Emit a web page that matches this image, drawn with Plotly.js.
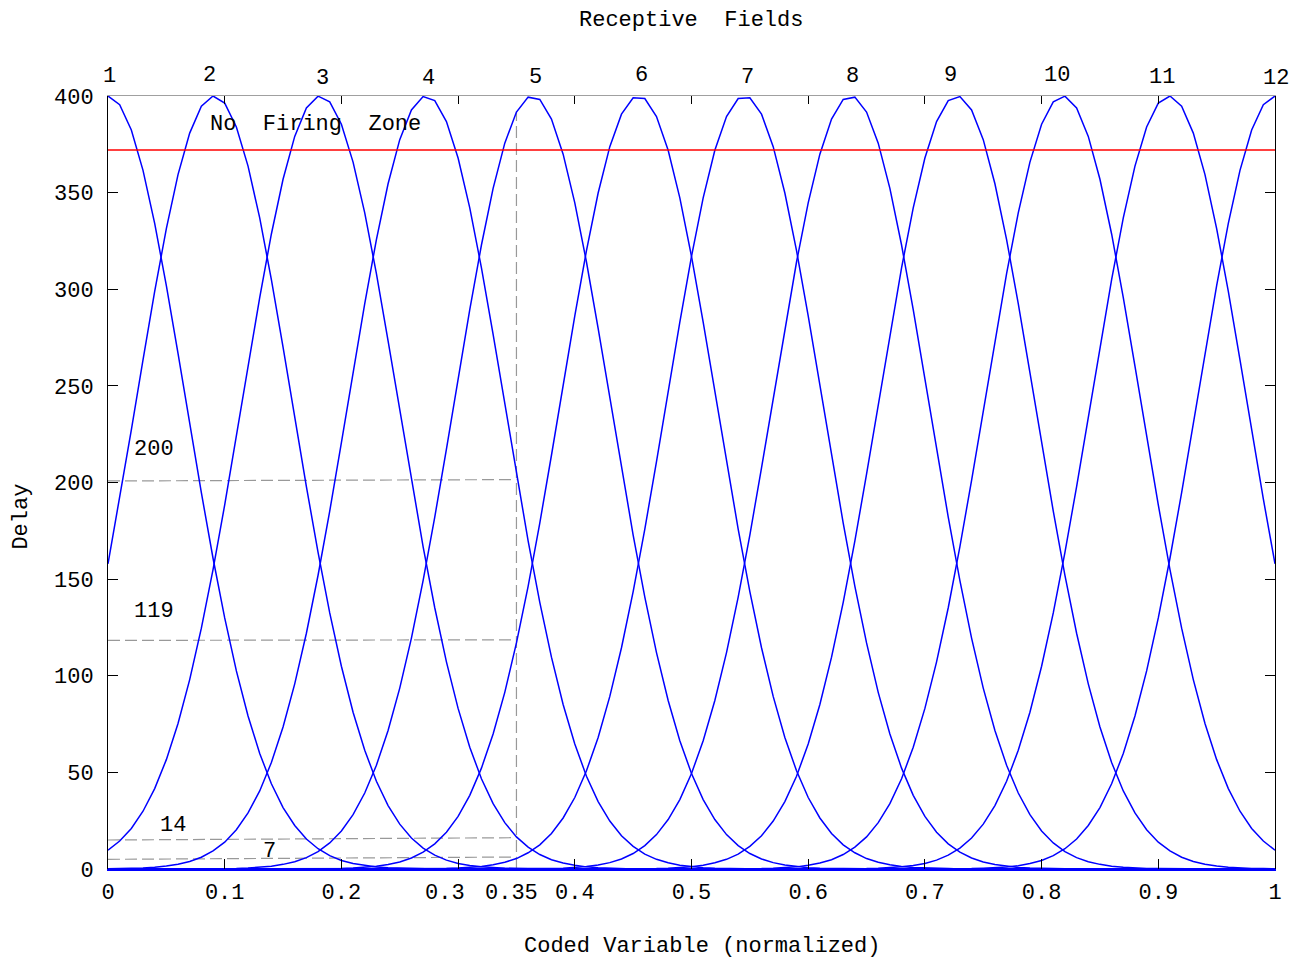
<!DOCTYPE html>
<html>
<head>
<meta charset="utf-8">
<script src="https://cdn.plot.ly/plotly-3.0.1.min.js"></script>
<style>html,body{margin:0;padding:0;background:#fff;}#chart{width:1293px;height:962px;}</style>
</head>
<body>
<div id="chart"></div>
<script>
// Sampling grid of the coded variable
const codedVariable = [
 0,0.01,0.02,0.03,0.04,0.05,0.06,0.07,0.08,0.09,
 0.1,0.11,0.12,0.13,0.14,0.15,0.16,0.17,0.18,0.19,
 0.2,0.21,0.22,0.23,0.24,0.25,0.26,0.27,0.28,0.29,
 0.3,0.31,0.32,0.33,0.34,0.35,0.36,0.37,0.38,0.39,
 0.4,0.41,0.42,0.43,0.44,0.45,0.46,0.47,0.48,0.49,
 0.5,0.51,0.52,0.53,0.54,0.55,0.56,0.57,0.58,0.59,
 0.6,0.61,0.62,0.63,0.64,0.65,0.66,0.67,0.68,0.69,
 0.7,0.71,0.72,0.73,0.74,0.75,0.76,0.77,0.78,0.79,
 0.8,0.81,0.82,0.83,0.84,0.85,0.86,0.87,0.88,0.89,
 0.9,0.91,0.92,0.93,0.94,0.95,0.96,0.97,0.98,0.99,
 1
];

// Delay of each receptive field, read at each grid point
const field1 = [
 400,395.5,382.4,361.5,334.1,301.9,266.8,230.5,194.7,160.8,
 129.9,102.5,79.2,59.8,44.1,31.8,22.5,15.5,10.5,6.9,
 4.4,2.8,1.7,1.0,0.6,0.4,0.2,
 0,0,0,0,0,0,0,0,0,0, 0,0,0,0,0,0,0,0,0,0, 0,0,0,0,0,0,0,0,0,0,
 0,0,0,0,0,0,0,0,0,0, 0,0,0,0,0,0,0,0,0,0, 0,0,0,0,0,0,0,0,0,0,
 0,0,0,0,0,0,0,0,0,0, 0,0,0,0
];
const field2 = [
 157.9,191.5,227.2,263.5,298.9,331.4,359.3,380.8,394.7,400.0,
 396.3,384.0,363.7,336.9,305.0,270.1,233.8,197.9,163.8,132.5,
 104.9,81.1,61.4,45.4,32.8,23.2,16.0,10.8,7.2,4.6,
 2.9,1.8,1.1,0.6,0.4,0.2,
 0,0,0,0,0,0,0,0,0,0, 0,0,0,0,0,0,0,0,0,0, 0,0,0,0,0,0,0,0,0,0,
 0,0,0,0,0,0,0,0,0,0, 0,0,0,0,0,0,0,0,0,0, 0,0,0,0,0,0,0,0,0,0,
 0,0,0,0,0
];
const field3 = [
 9.7,14.5,21.0,29.9,41.6,56.6,75.3,98.0,124.6,154.9,
 188.4,223.9,260.2,295.7,328.6,356.9,379.1,393.8,399.9,397.0,
 385.4,365.8,339.5,308.1,273.3,237.1,201.1,166.8,135.2,107.2,
 83.1,63.0,46.7,33.8,24.0,16.6,11.3,7.5,4.8,3.1,
 1.9,1.1,0.7,0.4,0.2,
 0,0,0,0,0,0,0,0,0,0, 0,0,0,0,0,0,0,0,0,0, 0,0,0,0,0,0,0,0,0,0,
 0,0,0,0,0,0,0,0,0,0, 0,0,0,0,0,0,0,0,0,0, 0,0,0,0,0,0
];
const field4 = [
 0.1,0.2,0.3,0.5,0.9,1.5,2.5,3.9,6.1,9.4,
 13.9,20.3,29.0,40.4,55.1,73.5,95.8,122.0,152.0,185.2,
 220.6,256.9,292.6,325.7,354.6,377.4,392.8,399.7,397.6,386.8,
 367.9,342.1,311.1,276.6,240.4,204.3,169.8,138.0,109.6,85.1,
 64.7,48.0,34.9,24.8,17.2,11.7,7.7,5.0,3.2,2.0,
 1.2,0.7,0.4,0.2,0.1,
 0,0,0,0,0,0,0,0,0,0, 0,0,0,0,0,0,0,0,0,0, 0,0,0,0,0,0,0,0,0,0,
 0,0,0,0,0,0,0,0,0,0, 0,0,0,0,0,0
];
const field5 = [
 0,0,0,0,0,0,0,0,0,
 0.1,
 0.2,0.3,0.5,0.9,1.4,2.4,3.8,5.9,9.0,13.5,
 19.7,28.1,39.3,53.7,71.7,93.6,119.5,149.2,182.1,217.3,
 253.6,289.4,322.9,352.2,375.6,391.7,399.4,398.2,388.1,369.9,
 344.7,314.1,279.8,243.7,207.6,172.8,140.7,112.0,87.2,66.4,
 49.4,35.9,25.6,17.8,12.1,8.0,5.2,3.3,2.1,1.3,
 0.7,0.4,0.3,0.1,
 0,0,0,0,0,0,0,0,0,0, 0,0,0,0,0,0,0,0,0,0, 0,0,0,0,0,0,0,0,0,0,
 0,0,0,0,0,0,0
];
const field6 = [
 0,0,0,0,0,0,0,0,0,0, 0,0,0,0,0,0,0,0,0,
 0.2,0.3,0.5,0.8,1.4,2.3,3.6,5.7,8.7,13.0,
 19.0,27.2,38.1,52.2,69.9,91.4,117.0,146.3,179.0,214.1,
 250.3,286.2,320.0,349.8,373.8,390.6,399.1,398.7,389.4,371.9,
 347.3,317.0,283.0,247.0,210.8,175.9,143.5,114.5,89.3,68.1,
 50.8,37.0,26.4,18.4,12.5,8.4,5.4,3.5,2.2,1.3,
 0.8,0.5,0.3,0.2,
 0,0,0,0,0,0,0,0,0,0, 0,0,0,0,0,0,0,0,0,0, 0,0,0,0,0,0,0,0
];
const field7 = [
 0,0,0,0,0,0,0,0,0,0, 0,0,0,0,0,0,0,0,0,0, 0,0,0,0,0,0,0,0,
 0.2,0.3,0.5,0.8,
 1.3,2.2,3.5,5.4,8.4,12.5,18.4,26.4,37.0,50.8,
 68.1,89.3,114.5,143.5,175.9,210.8,247.0,283.0,317.0,347.3,
 371.9,389.4,398.7,399.1,390.6,373.8,349.8,320.0,286.2,250.3,
 214.1,179.0,146.3,117.0,91.4,69.9,52.2,38.1,27.2,19.0,
 13.0,8.7,5.7,3.6,2.3,1.4,0.8,0.5,0.3,0.2,
 0,0,0,0,0,0,0,0,0,0, 0,0,0,0,0,0,0,0,0
];
const field8 = [
 0,0,0,0,0,0,0,0,0,0, 0,0,0,0,0,0,0,0,0,0, 0,0,0,0,0,0,0,0,0,0, 0,0,0,0,0,0,0,
 0.1,0.3,0.4,0.7,
 1.3,2.1,3.3,5.2,8.0,12.1,17.8,25.6,35.9,49.4,
 66.4,87.2,112.0,140.7,172.8,207.6,243.7,279.8,314.1,344.7,
 369.9,388.1,398.2,399.4,391.7,375.6,352.2,322.9,289.4,253.6,
 217.3,182.1,149.2,119.5,93.6,71.7,53.7,39.3,28.1,19.7,
 13.5,9.0,5.9,3.8,2.4,1.4,0.9,0.5,0.3,0.2,
 0.1,
 0,0,0,0,0,0,0,0,0
];
const field9 = [
 0,0,0,0,0,0,0,0,0,0, 0,0,0,0,0,0,0,0,0,0, 0,0,0,0,0,0,0,0,0,0,
 0,0,0,0,0,0,0,0,0,0, 0,0,0,0,0,0,
 0.1,0.2,0.4,0.7,1.2,
 2.0,3.2,5.0,7.7,11.7,17.2,24.8,34.9,48.0,64.7,
 85.1,109.6,138.0,169.8,204.3,240.4,276.6,311.1,342.1,367.9,
 386.8,397.6,399.7,392.8,377.4,354.6,325.7,292.6,256.9,220.6,
 185.2,152.0,122.0,95.8,73.5,55.1,40.4,29.0,20.3,13.9,
 9.4,6.1,3.9,2.5,1.5,0.9,0.5,0.3,0.2,0.1
];
const field10 = [
 0,0,0,0,0,0,0,0,0,0, 0,0,0,0,0,0,0,0,0,0, 0,0,0,0,0,0,0,0,0,0,
 0,0,0,0,0,0,0,0,0,0, 0,0,0,0,0,0,0,0,0,0, 0,0,0,0,0,0,
 0.2,0.4,0.7,1.1,1.9,
 3.1,4.8,7.5,11.3,16.6,24.0,33.8,46.7,63.0,83.1,
 107.2,135.2,166.8,201.1,237.1,273.3,308.1,339.5,365.8,385.4,
 397.0,399.9,393.8,379.1,356.9,328.6,295.7,260.2,223.9,188.4,
 154.9,124.6,98.0,75.3,56.6,41.6,29.9,21.0,14.5,9.7
];
const field11 = [
 0,0,0,0,0,0,0,0,0,0, 0,0,0,0,0,0,0,0,0,0, 0,0,0,0,0,0,0,0,0,0,
 0,0,0,0,0,0,0,0,0,0, 0,0,0,0,0,0,0,0,0,0, 0,0,0,0,0,0,0,0,0,0,
 0,0,0,0,0,
 0.2,0.4,0.6,1.1,1.8,2.9,
 4.6,7.2,10.8,16.0,23.2,32.8,45.4,61.4,81.1,104.9,
 132.5,163.8,197.9,233.8,270.1,305.0,336.9,363.7,384.0,396.3,
 400.0,394.7,380.8,359.3,331.4,298.9,263.5,227.2,191.5,157.9
];
const field12 = [
 0,0,0,0,0,0,0,0,0,0, 0,0,0,0,0,0,0,0,0,0, 0,0,0,0,0,0,0,0,0,0,
 0,0,0,0,0,0,0,0,0,0, 0,0,0,0,0,0,0,0,0,0, 0,0,0,0,0,0,0,0,0,0,
 0,0,0,0,0,0,0,0,0,0, 0,0,0,0,
 0.2,0.4,0.6,1.0,1.7,2.8,
 4.4,6.9,10.5,15.5,22.5,31.8,44.1,59.8,79.2,102.5,
 129.9,160.8,194.7,230.5,266.8,301.9,334.1,361.5,382.4,395.5,400
];

const fieldNames = ['1','2','3','4','5','6','7','8','9','10','11','12'];
const fields = [field1,field2,field3,field4,field5,field6,field7,field8,field9,field10,field11,field12];

// Firing threshold (no firing zone above it)
const thresholdDelay = 372;
// Example input and the delays it produces
const sampleInput = 0.35;
const sampleTopDelay = 392;
const guideDelayStart = [200.8, 118.3, 15.0, 5.0];
const guideDelayEnd = [201.5, 118.6, 16.2, 6.2];
const guideLabels = ['200', '119', '14', '7'];

// Tick labels
const xTickVals = [0,0.1,0.2,0.3,0.4,0.5,0.6,0.7,0.8,0.9,1];
const xTickText = ['0','0.1','0.2','0.3','0.4','0.5','0.6','0.7','0.8','0.9','1'];
const yTickVals = [0,50,100,150,200,250,300,350,400];
const yTickText = ['0','50','100','150','200','250','300','350','400'];

fields.forEach((f, i) => { if (f.length !== codedVariable.length) throw new Error('field' + (i+1) + ' length ' + f.length); });

const FONT = 'Liberation Mono, DejaVu Sans Mono, monospace';
const nb = '\u00a0';
const traces = [];

// guide dashed lines
traces.push({
  x: [sampleInput, sampleInput], y: [0, sampleTopDelay], mode: 'lines', type: 'scatter',
  line: {color: '#999999', width: 1.2, dash: '12px,5px'}, hoverinfo: 'skip'
});
guideLabels.forEach((lab, i) => {
  traces.push({
    x: [0, sampleInput], y: [guideDelayStart[i], guideDelayEnd[i]], mode: 'lines', type: 'scatter',
    line: {color: '#999999', width: 1.2, dash: '12px,5px'}, hoverinfo: 'skip'
  });
});

fields.forEach((f, i) => {
  traces.push({
    x: codedVariable, y: f, mode: 'lines', type: 'scatter', name: fieldNames[i],
    line: {color: '#0000ff', width: 1.5}
  });
});

traces.push({
  x: [0, 1], y: [thresholdDelay, thresholdDelay], mode: 'lines', type: 'scatter', xaxis: 'x2',
  line: {color: '#ff0000', width: 1.5}, hoverinfo: 'skip'
});

// the "0.3" label is drawn a little left of its tick (as in the source), so it is placed separately
const xTickShown = xTickText.map(t => t === '0.3' ? '' : t);

const annotations = [];
annotations.push({xref:'paper', yref:'paper', x:0.4996, y:1.0983, text:'Receptive'+nb+nb+'Fields', showarrow:false, font:{family:FONT,size:22,color:'#000'}, xanchor:'center', yanchor:'middle'});
annotations.push({xref:'paper', yref:'paper', x:0.5087, y:-0.1009, text:'Coded'+nb+'Variable'+nb+'(normalized)', showarrow:false, font:{family:FONT,size:22,color:'#000'}, xanchor:'center', yanchor:'middle'});
annotations.push({xref:'paper', yref:'paper', x:-0.0740, y:0.4554, text:'Delay', textangle:-90, showarrow:false, font:{family:FONT,size:22,color:'#000'}, xanchor:'center', yanchor:'middle'});
annotations.push({xref:'x', yref:'y', x:0.178, y:385.5, text:'No'+nb+nb+'Firing'+nb+nb+'Zone', showarrow:false, font:{family:FONT,size:22,color:'#000'}, xanchor:'center', yanchor:'middle'});

const fieldLabelX = [0.001,0.087,0.184,0.275,0.366,0.457,0.548,0.638,0.722,0.813,0.903,1.0];
const fieldLabelXShift = [0,0,0,0,0,0,0,0,0,0,0,1];
const fieldLabelShift = [0,1,-2,-2,-1,1,-1,0,1,1,-1,-2];
fieldNames.forEach((n, i) => {
  annotations.push({xref:'x', yref:'paper', x:fieldLabelX[i], xshift:fieldLabelXShift[i], y:1.0258, yshift:fieldLabelShift[i], text:n, showarrow:false, font:{family:FONT,size:22,color:'#000'}, xanchor:'center', yanchor:'middle'});
});

const guideLabelPos = [[0.0394,217.3],[0.0394,133.5],[0.0553,22.3],[0.138,8.8]];
guideLabels.forEach((lab, i) => {
  annotations.push({xref:'x', yref:'y', x:guideLabelPos[i][0], y:guideLabelPos[i][1], text:lab, showarrow:false, font:{family:FONT,size:22,color:'#000'}, xanchor:'center', yanchor:'middle'});
});
annotations.push({xref:'x', yref:'paper', x:0.2887, y:-0.0285, yshift:-2, text:'0.3', showarrow:false, font:{family:FONT,size:22,color:'#000'}, xanchor:'center', yanchor:'middle'});
annotations.push({xref:'x', yref:'paper', x:0.3457, y:-0.0285, yshift:-2, text:String(sampleInput), showarrow:false, font:{family:FONT,size:22,color:'#000'}, xanchor:'center', yanchor:'middle'});

const layout = {
  width: 1293, height: 962,
  margin: {l:108, r:18, t:96, b:93, pad:0},
  paper_bgcolor: '#ffffff', plot_bgcolor: '#ffffff',
  showlegend: false,
  font: {family: FONT, size: 22, color: '#000'},
  xaxis: {
    range: [0, 1], tickmode: 'array', tickvals: xTickVals, ticktext: xTickShown,
    ticks: 'inside', ticklen: 10, tickwidth: 1, tickcolor: '#000',
    showline: true, linecolor: '#0000ff', linewidth: 2, mirror: false,
    showgrid: false, zeroline: false, ticklabelstandoff: 2,
    tickfont: {family: FONT, size: 22, color: '#000'}
  },
  xaxis2: {
    range: [0, 1], overlaying: 'x', side: 'top', anchor: 'y',
    tickmode: 'array', tickvals: xTickVals, ticks: 'inside', ticklen: 8, tickwidth: 1, tickcolor: '#000',
    showticklabels: false, showline: true, linecolor: '#a0a0a0', linewidth: 1.5,
    showgrid: false, zeroline: false
  },
  yaxis: {
    range: [0, 400], tickmode: 'array', tickvals: yTickVals, ticktext: yTickText,
    ticks: 'inside', ticklen: 10, tickwidth: 1, tickcolor: '#000',
    showline: true, linecolor: '#000', linewidth: 1, mirror: 'ticks',
    showgrid: false, zeroline: false, ticklabelstandoff: 9,
    tickfont: {family: FONT, size: 22, color: '#000'}
  },
  annotations: annotations
};

Plotly.newPlot('chart', traces, layout, {displayModeBar: false, staticPlot: true});
</script>
</body>
</html>
